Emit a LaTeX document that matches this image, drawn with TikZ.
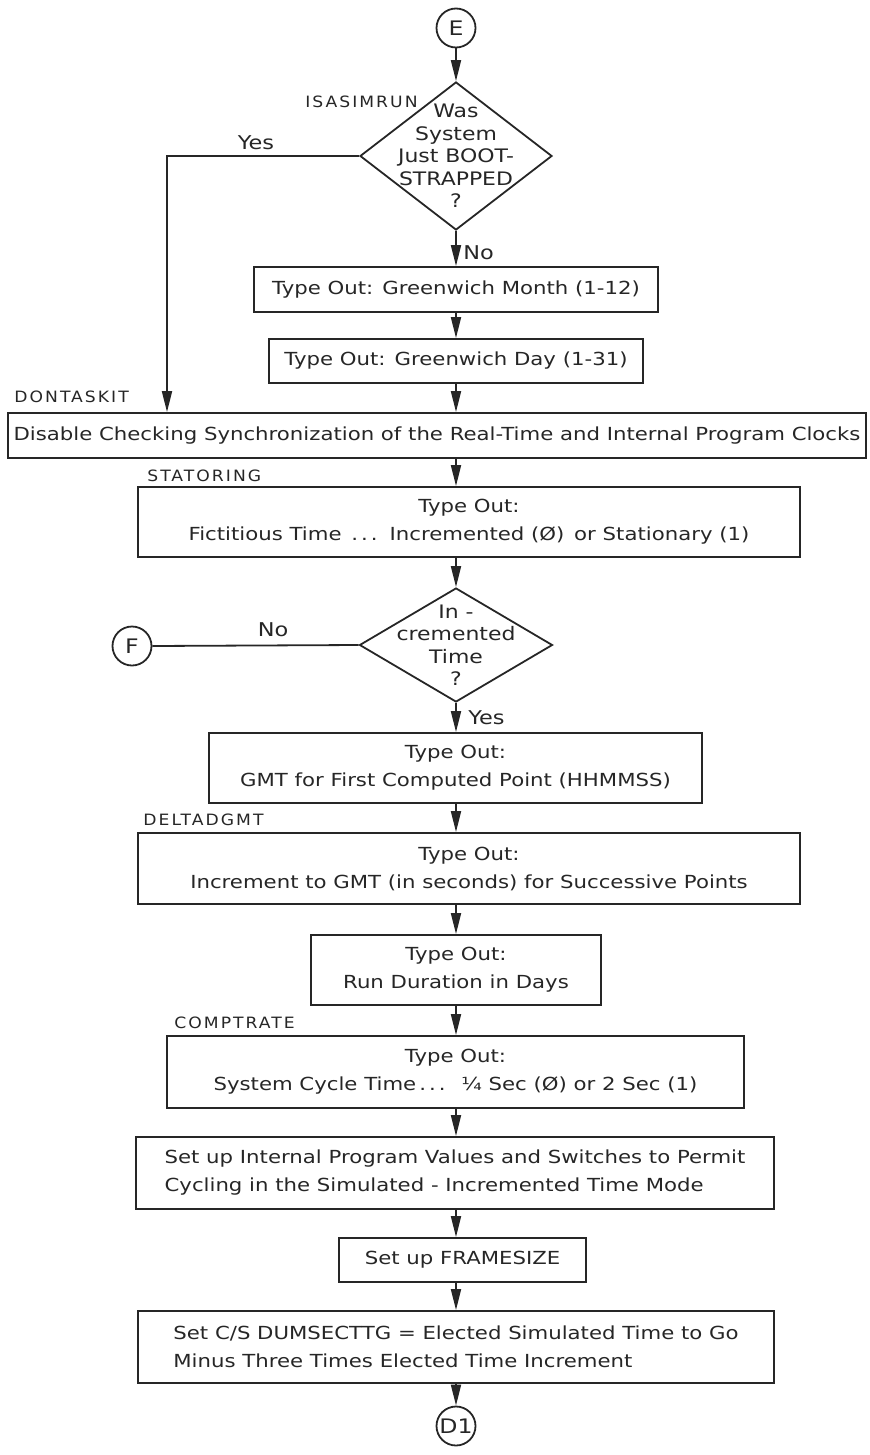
\documentclass[tikz,border=0pt]{standalone}
\usepackage{fontspec}
\setmainfont[FakeStretch=1.18]{DejaVu Sans}
\newfontfamily\tagfont[FakeStretch=1.1,LetterSpace=13]{DejaVu Sans}
\usetikzlibrary{shapes.geometric,arrows.meta}
\begin{document}
\begin{tikzpicture}[x=0.5pt,y=-0.5pt,
  every node/.style={inner sep=0pt, text=black!85},
  line/.style={line width=0.9pt, draw=black!85},
  arr/.style={line, -{Triangle[width=5pt,length=10.5pt]}},
  box/.style={draw=black!85, line width=0.9pt, rectangle, align=center,
    font=\fontsize{9}{14}\selectfont},
  lbox/.style={box, align=left},
  decision/.style={draw=black!85, line width=0.9pt, diamond, inner sep=0pt},
  conn/.style={draw=black!85, line width=0.9pt, circle, minimum size=19.5pt,
    font=\fontsize{10}{11}\selectfont},
  tag/.style={font=\tagfont\fontsize{7.8}{9}\selectfont},
  ans/.style={font=\fontsize{9.5}{11}\selectfont},
  qtext/.style={align=center, font=\fontsize{9.3}{11.25}\selectfont}
]
\useasboundingbox (0,0) rectangle (870,1455);

% connectors (entry / exit points)
\node[conn] (E) at (456,28) {E};
\node[conn] (F) at (132,646) {F};
\node[conn] (D1) at (456,1426) {D1};

% first decision
\node[decision, minimum width=96pt, minimum height=74pt] (q1) at (456,156) {};
\node[qtext] (q1t) at (q1.center) {Was\\System\\Just BOOT-\\STRAPPED\\?};
\node[tag, anchor=east] (isasim) at (418,102) {ISASIMRUN};

% processing boxes
\node[box, minimum width=202pt, minimum height=22.5pt] (month) at (456,289.5)
  {Type Out: Greenwich Month (1-12)};
\node[box, minimum width=187pt, minimum height=22pt] (day) at (456,361)
  {Type Out: Greenwich Day (1-31)};
\node[tag, anchor=west] (dontask) at (14,397) {DONTASKIT};
\node[box, minimum width=429pt, minimum height=22.5pt] (clocks) at (437,435.5)
  {Disable Checking Synchronization of the Real-Time and Internal Program Clocks};
\node[tag, anchor=west] (statoring) at (147,476) {STATORING};
\node[box, minimum width=331pt, minimum height=35pt] (fict) at (469,522)
  {Type Out:\\Fictitious Time \,.\,.\,.\, Incremented (Ø) \,or Stationary (1)};

% second decision
\node[decision, minimum width=96.5pt, minimum height=57pt] (q2) at (456,645) {};
\node[qtext] (q2t) at (q2.center) {In -\\cremented\\Time\\?};

\node[box, minimum width=246.5pt, minimum height=35pt] (gmt) at (455.5,768)
  {Type Out:\\GMT for First Computed Point (HHMMSS)};
\node[tag, anchor=west] (deltad) at (143,820) {DELTADGMT};
\node[box, minimum width=331pt, minimum height=35.5pt] (incr) at (469,868.5)
  {Type Out:\\Increment to GMT (in seconds) for Successive Points};
\node[box, minimum width=145pt, minimum height=35pt] (run) at (456,970)
  {Type Out:\\Run Duration in Days};
\node[tag, anchor=west] (comptrate) at (174,1023) {COMPTRATE};
\node[box, minimum width=288.5pt, minimum height=36pt] (cycle) at (455.5,1072)
  {Type Out:\\System Cycle Time\,.\,.\,. \ ¼ Sec (Ø) or 2 Sec (1)};
\node[lbox, minimum width=319pt, minimum height=36pt] (internal) at (455,1173)
  {Set up Internal Program Values and Switches to Permit\\Cycling in the Simulated - Incremented Time Mode};
\node[box, minimum width=123.5pt, minimum height=22pt] (frame) at (462.5,1260)
  {Set up FRAMESIZE};
\node[lbox, minimum width=318pt, minimum height=36pt] (dum) at (456,1347)
  {Set C/S DUMSECTTG = Elected Simulated Time to Go\\Minus Three Times Elected Time Increment};

% flow lines
\draw[arr] (E) -- (q1);
\draw[arr] (q1.south) -- (month.north -| q1.south);
\node[ans, anchor=west] (no1) at (463,253) {No};
\coordinate (bendyes) at (167,156);
\draw[arr] (q1.west) -- (bendyes) -- (bendyes |- clocks.north);
\node[ans] (yes1) at (256,143) {Yes};
\draw[arr] (month.south -| E) -- (day.north -| E);
\draw[arr] (day.south -| E) -- (clocks.north -| E);
\draw[arr] (clocks.south -| E) -- (fict.north -| E);
\draw[arr] (fict.south -| E) -- (q2.north);
\draw[line] (q2.west) -- (F.east);
\node[ans] (no2) at (273,630) {No};
\draw[arr] (q2.south) -- (gmt.north -| q2.south);
\node[ans, anchor=west] (yes2) at (468,718) {Yes};
\draw[arr] (gmt.south -| E) -- (incr.north -| E);
\draw[arr] (incr.south -| E) -- (run.north -| E);
\draw[arr] (run.south -| E) -- (cycle.north -| E);
\draw[arr] (cycle.south -| E) -- (internal.north -| E);
\draw[arr] (internal.south -| E) -- (frame.north -| E);
\draw[arr] (frame.south -| E) -- (dum.north -| E);
\draw[arr] (dum.south -| E) -- (D1);
\end{tikzpicture}
\end{document}
